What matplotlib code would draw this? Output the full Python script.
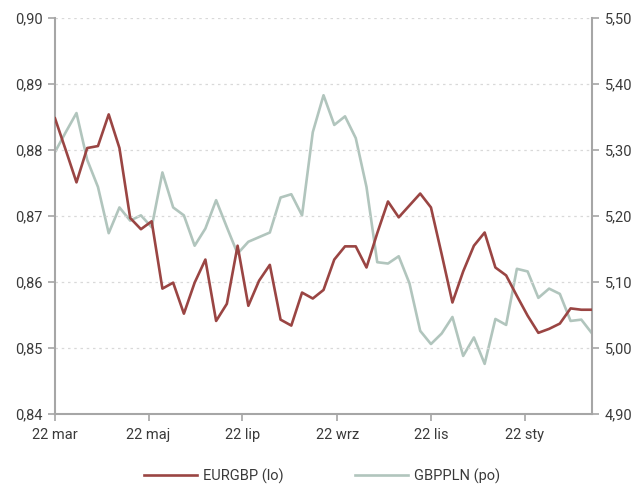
import matplotlib
matplotlib.use("Agg")
import matplotlib.pyplot as plt
from matplotlib.ticker import FuncFormatter
import pandas as pd

plt.rcParams['font.family'] = ['Roboto', 'DejaVu Sans']

dates = pd.date_range('2021-03-22', periods=51, freq='7D')

eurgbp = [0.8848, 0.8800, 0.8751, 0.8803, 0.8806, 0.8854, 0.8803, 0.8697, 0.8680, 0.8692,
          0.8590, 0.8599, 0.8552, 0.8599, 0.8634, 0.8541, 0.8567, 0.8655, 0.8564, 0.8602,
          0.8626, 0.8543, 0.8534, 0.8584, 0.8575, 0.8588, 0.8634, 0.8654, 0.8654, 0.8622,
          0.8674, 0.8722, 0.8698, 0.8716, 0.8734, 0.8713, 0.8642, 0.8569, 0.8616, 0.8655,
          0.8675, 0.8622, 0.8610, 0.8579, 0.8549, 0.8523, 0.8529, 0.8537, 0.8560, 0.8558,
          0.8558]

gbppln = [5.297, 5.327, 5.356, 5.285, 5.244, 5.174, 5.213, 5.193, 5.201, 5.183,
          5.266, 5.213, 5.201, 5.155, 5.181, 5.224, 5.183, 5.143, 5.161, 5.168,
          5.175, 5.228, 5.233, 5.201, 5.327, 5.383, 5.338, 5.351, 5.318, 5.244,
          5.130, 5.128, 5.139, 5.098, 5.026, 5.006, 5.022, 5.047, 4.988, 5.016,
          4.976, 5.044, 5.035, 5.120, 5.116, 5.076, 5.090, 5.082, 5.041, 5.043,
          5.022]

tick_dates = pd.to_datetime(['2021-03-22', '2021-05-22', '2021-07-22',
                             '2021-09-22', '2021-11-22', '2022-01-22'])
tick_labels = ['22 mar', '22 maj', '22 lip', '22 wrz', '22 lis', '22 sty']

red = '#9a4543'
green = '#b1c5bd'
axis_grey = '#a6a6a6'
text_col = '#3a3a3a'

fig = plt.figure(figsize=(6.38, 4.84), dpi=100)
ax = fig.add_axes([0.0862, 0.1446, 0.8418, 0.8182])
ax2 = ax.twinx()

l1, = ax.plot(dates, eurgbp, color=red, lw=1.9, label='EURGBP (lo)', zorder=3)
l2, = ax2.plot(dates, gbppln, color=green, lw=1.9, label='GBPPLN (po)', zorder=2)
ax.set_zorder(ax2.get_zorder() + 1)
ax.patch.set_visible(False)

ax.set_ylim(0.84, 0.90)
ax2.set_ylim(4.90, 5.50)
ax.set_xlim(dates[0], dates[-1])
ax.set_yticks([0.84, 0.85, 0.86, 0.87, 0.88, 0.89, 0.90])
ax2.set_yticks([4.90, 5.00, 5.10, 5.20, 5.30, 5.40, 5.50])
comma = FuncFormatter(lambda v, p: '{:.2f}'.format(v).replace('.', ','))
ax.yaxis.set_major_formatter(comma)
ax2.yaxis.set_major_formatter(comma)
ax.set_xticks(tick_dates)
ax.set_xticklabels(tick_labels)

ax.grid(axis='y', color='#d9d9d9', linestyle=(0, (2, 3)), lw=0.9)
ax.set_axisbelow(True)

for a in (ax, ax2):
    a.spines['top'].set_visible(False)
    for s in ('left', 'right', 'bottom'):
        a.spines[s].set_color(axis_grey)
        a.spines[s].set_linewidth(1.5)
    a.tick_params(colors=axis_grey, labelcolor=text_col, labelsize=10.5, length=5, width=1.2)
ax.spines['right'].set_visible(False)
ax2.spines['left'].set_visible(False)
ax2.spines['bottom'].set_visible(False)
ax.tick_params(axis='x', pad=5)
ax.tick_params(axis='y', pad=4)
ax2.tick_params(axis='y', pad=4)

fig.legend([l1, l2], ['EURGBP (lo)', 'GBPPLN (po)'], loc='center', bbox_to_anchor=(0.505, 0.016),
           ncol=2, frameon=False, fontsize=10.5, handlelength=3.6, handletextpad=0.45,
           columnspacing=4.9, labelcolor=text_col, borderpad=0, borderaxespad=0)

fig.savefig('out.png', dpi=100)
